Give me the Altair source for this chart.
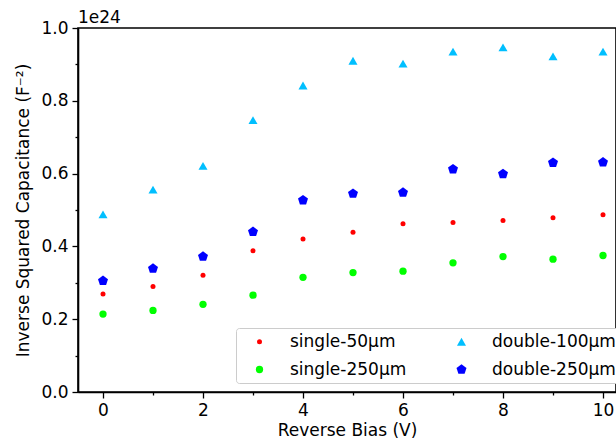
import altair as alt
import pandas as pd

bias = [0, 1, 2, 3, 4, 5, 6, 7, 8, 9, 10]
single_50 = [0.269, 0.290, 0.321, 0.388, 0.420, 0.439, 0.462, 0.466, 0.471, 0.479, 0.487]
single_250 = [0.214, 0.224, 0.241, 0.266, 0.315, 0.328, 0.332, 0.355, 0.372, 0.365, 0.375]
double_100 = [0.488, 0.556, 0.621, 0.747, 0.842, 0.910, 0.902, 0.935, 0.947, 0.922, 0.935]
double_250 = [0.3055, 0.339, 0.372, 0.440, 0.527, 0.545, 0.548, 0.612, 0.599, 0.630, 0.631]

series_names = ["single-50µm", "single-250µm", "double-100µm", "double-250µm"]
series_vals = [single_50, single_250, double_100, double_250]

rows = []
for order, (name, vals) in enumerate(zip(series_names, series_vals)):
    for b, v in zip(bias, vals):
        rows.append({"bias": b, "value": v, "series": name, "order": order})
df = pd.DataFrame(rows)

colors = ["#ff0000", "#00ff00", "#00bfff", "#0000ff"]
pentagon = "M0,-1L0.951,-0.309L0.588,0.809L-0.588,0.809L-0.951,-0.309Z"
shapes = ["circle", "circle", "triangle-up", pentagon]
sizes = [25, 110, 170, 100]

FONT = "DejaVu Sans"

x_axis = alt.Axis(
    values=[x / 2 for x in range(0, 21)],
    labelExpr="datum.value % 2 === 0 ? datum.label : ''",
    format="d",
    tickSize={"condition": {"test": "datum.value % 2 === 0", "value": 6}, "value": 3},
    title="Reverse Bias (V)",
    grid=False,
)
y_axis = alt.Axis(
    values=[i / 10 for i in range(0, 11)],
    labelExpr="round(datum.value * 10) % 2 === 0 ? format(datum.value, '.1f') : ''",
    tickSize={"condition": {"test": "round(datum.value * 10) % 2 === 0", "value": 6}, "value": 3},
    title="Inverse Squared Capacitance (F⁻²)",
    grid=False,
)

chart = (
    alt.Chart(df)
    .mark_point(filled=True, opacity=1, strokeWidth=0)
    .encode(
        x=alt.X("bias:Q", scale=alt.Scale(domain=[-0.5, 10.26], nice=False, zero=False), axis=x_axis),
        y=alt.Y("value:Q", scale=alt.Scale(domain=[0, 1.0], nice=False), axis=y_axis),
        color=alt.Color("series:N", scale=alt.Scale(domain=series_names, range=colors),
                        legend=alt.Legend(title=None)),
        shape=alt.Shape("series:N", scale=alt.Scale(domain=series_names, range=shapes),
                        legend=alt.Legend(title=None)),
        size=alt.Size("series:N", scale=alt.Scale(domain=series_names, range=sizes),
                      legend=alt.Legend(title=None)),
        order=alt.Order("order:Q"),
    )
    .properties(
        width=538,
        height=364,
        title=alt.TitleParams("1e24", anchor="start", frame="group", fontSize=17,
                              font=FONT, fontWeight="normal", offset=3, dy=11, color="black"),
        autosize=alt.AutoSizeParams(type="none"),
        padding={"left": 78, "top": 28, "right": 0, "bottom": 50},
    )
    .configure_view(stroke="black", strokeWidth=1.6)
    .configure_axis(
        domainColor="black", domainWidth=1.6, tickColor="black", tickWidth=1.3,
        labelFont=FONT, labelFontSize=17, labelColor="black", labelPadding=4,
        titleFont=FONT, titleFontSize=17, titleFontWeight="normal", titleColor="black",
    )
    .configure_axisY(titlePadding=8)
    .configure_axisX(titlePadding=4)
    .configure_legend(
        orient="none", legendX=158, legendY=300, columns=2,
        labelFont=FONT, labelFontSize=17, labelColor="black",
        padding=5, symbolOffset=10, labelOffset=22, rowPadding=10, columnPadding=36,
        strokeColor="#cccccc", fillColor="white", cornerRadius=3, symbolStrokeWidth=0,
    )
)

chart.save("out.html", embed_options={"renderer": "svg", "actions": False})
